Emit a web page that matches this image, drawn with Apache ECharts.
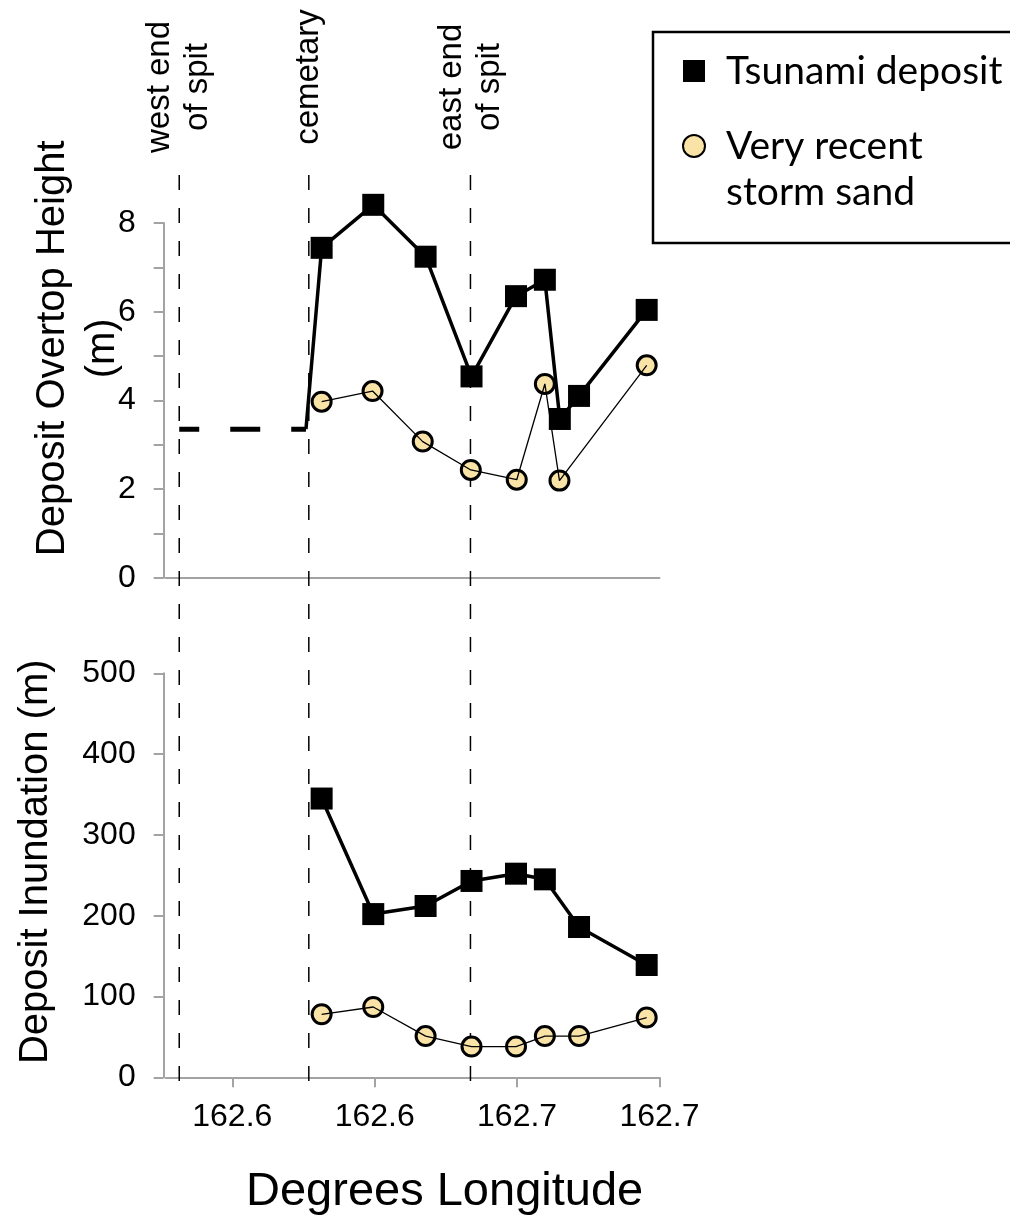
<!DOCTYPE html>
<html>
<head>
<meta charset="utf-8">
<script src="https://cdn.jsdelivr.net/npm/echarts@6/dist/echarts.min.js"></script>
<style>
html,body{margin:0;padding:0;background:#fff;}
#c{width:1010px;height:1218px;}
</style>
</head>
<body>
<div id="c"></div>
<script>
// ---------------- DATA ----------------
const xMin = 162.5613;
const xMax = 162.70;
const xTickValues = [162.58, 162.62, 162.66, 162.70];
const xTickLabels = ['162.6', '162.6', '162.7', '162.7'];

const landmarkLon = [162.5651, 162.6015, 162.6469];
const landmarkNames = ['west end\nof spit', 'cemetary', 'east end\nof spit'];

// Top panel: Deposit overtop height (m)
const westSpitLon = [162.5651, 162.6007];
const westSpitHeight = [3.35, 3.35];
const tsunamiHeightLon = [162.6051, 162.6196, 162.6343, 162.6472, 162.6597, 162.6678, 162.6720, 162.6774, 162.6964];
const tsunamiHeight = [7.44, 8.41, 7.24, 4.54, 6.35, 6.72, 3.58, 4.10, 6.04];
const stormHeightLon = [162.6051, 162.6194, 162.6335, 162.6470, 162.6599, 162.6678, 162.6719, 162.6964];
const stormHeight = [3.97, 4.21, 3.07, 2.43, 2.21, 4.37, 2.19, 4.79];

// Bottom panel: Deposit inundation (m)
const tsunamiInundLon = [162.6051, 162.6196, 162.6343, 162.6472, 162.6597, 162.6678, 162.6774, 162.6964];
const tsunamiInund = [345, 202, 212, 243, 252, 245, 186, 139];
const stormInundLon = [162.6051, 162.6196, 162.6343, 162.6472, 162.6597, 162.6678, 162.6774, 162.6964];
const stormInund = [78, 87, 51, 38, 38, 51, 51, 74];

const heightTicks = [0, 2, 4, 6, 8];

// ---------------- BUILD ----------------
const pairs = (xs, ys) => xs.map((x, i) => [x, ys[i]]);
const FONT = '"Liberation Sans", Arial, sans-serif';
const AXIS_GRAY = '#a3a3a3';
const SAND = '#FAE3A6';
const TSUNAMI = 'Tsunami deposit';
const STORM = 'Very recent\nstorm sand';

const chart = echarts.init(document.getElementById('c'), null, {renderer: 'canvas'});

const gridL = 165.7, gridR = 1010 - 659.5;
const grids = [
  {left: gridL, right: gridR, top: 223, bottom: 1218 - 577.7, outerBoundsMode: 'none', containLabel: false},
  {left: gridL, right: gridR, top: 673.3, bottom: 1218 - 1077.3, outerBoundsMode: 'none', containLabel: false},
  {left: gridL, right: gridR, top: 160, bottom: 1218 - 1081, outerBoundsMode: 'none', containLabel: false}
];

const axisLine = {show: true, lineStyle: {color: AXIS_GRAY, width: 2}};

const tsunamiTop = [[westSpitLon[1], westSpitHeight[1]]].concat(pairs(tsunamiHeightLon, tsunamiHeight));

const squareStyle = {color: '#000', opacity: 1};
const circleStyle = {color: SAND, borderColor: '#000', borderWidth: 3, opacity: 1};

const option = {
  animation: false,
  backgroundColor: '#fff',
  grid: grids,
  xAxis: [
    {gridIndex: 0, type: 'value', min: xMin, max: xMax, axisLine: axisLine,
     axisTick: {show: false}, axisLabel: {show: false}, splitLine: {show: false}},
    {gridIndex: 1, type: 'value', min: xMin, max: xMax, offset: 3.5, axisLine: axisLine,
     axisTick: {show: true, length: 10, lineStyle: {color: AXIS_GRAY, width: 2}, customValues: xTickValues},
     axisLabel: {show: true, customValues: xTickValues, fontFamily: FONT, fontSize: 32, color: '#000', margin: 20,
       formatter: function (v) {
         let best = 0;
         xTickValues.forEach((t, i) => { if (Math.abs(t - v) < Math.abs(xTickValues[best] - v)) best = i; });
         return xTickLabels[best];
       }},
     splitLine: {show: false},
     name: 'Degrees Longitude', nameLocation: 'middle', nameGap: 88, nameMoveOverlap: false,
     nameTextStyle: {fontFamily: FONT, fontSize: 47, color: '#000', padding: [0, 0, 0, 64]}},
    {gridIndex: 2, type: 'value', min: xMin, max: xMax, show: false}
  ],
  yAxis: [
    {gridIndex: 0, type: 'value', min: 0, max: 8, interval: 1, offset: 2, axisLine: axisLine,
     axisTick: {show: true, length: 10, lineStyle: {color: AXIS_GRAY, width: 2}},
     axisLabel: {fontFamily: FONT, fontSize: 32, color: '#000', margin: 28,
       formatter: v => heightTicks.indexOf(v) >= 0 ? String(v) : ''},
     splitLine: {show: false},
     name: 'Deposit Overtop Height\n(m)', nameLocation: 'middle', nameRotate: 90, nameGap: 36, nameMoveOverlap: false,
     nameTextStyle: {fontFamily: FONT, fontSize: 40, lineHeight: 50, color: '#000', padding: [0, 0, 0, 104]}},
    {gridIndex: 1, type: 'value', min: 0, max: 500, interval: 100, offset: 2, axisLine: axisLine,
     axisTick: {show: true, length: 10, lineStyle: {color: AXIS_GRAY, width: 2}},
     axisLabel: {fontFamily: FONT, fontSize: 32, color: '#000', margin: 28},
     splitLine: {show: false},
     name: 'Deposit Inundation (m)', nameLocation: 'middle', nameRotate: 90, nameGap: 108, nameMoveOverlap: false,
     nameTextStyle: {fontFamily: FONT, fontSize: 40, color: '#000', padding: [0, 0, 0, 27]}},
    {gridIndex: 2, type: 'value', min: 0, max: 1, show: false}
  ],
  legend: {
    orient: 'vertical', left: 653, top: 32,
    padding: [16, 60, 28, 29],
    itemGap: -17, itemWidth: 22, itemHeight: 22,
    borderColor: '#000', borderWidth: 2.5, backgroundColor: '#fff',
    selectedMode: false,
    textStyle: {fontFamily: 'Lato', fontSize: 39, lineHeight: 46, color: '#000', padding: [0, 0, 0, 16]},
    formatter: name => name === STORM ? '\n' + name : name,
    data: [
      {name: TSUNAMI, icon: 'rect'},
      {name: STORM, icon: 'circle'}
    ]
  },
  series: [
    // landmark vertical dashed lines
    ...landmarkLon.map((lon, i) => ({
      name: 'landmark' + i, type: 'line', xAxisIndex: 2, yAxisIndex: 2, silent: true, z: 1,
      symbol: 'none', data: [[lon, 0], [lon, 1]],
      lineStyle: {color: '#000', width: 1.5, type: [15, 18]}
    })),
    // top panel
    {name: 'west spit level', type: 'line', xAxisIndex: 0, yAxisIndex: 0, z: 3, symbol: 'none', clip: false,
     data: pairs(westSpitLon, westSpitHeight),
     lineStyle: {color: '#000', width: 5, type: [30, 31], dashOffset: 10}},
    {name: TSUNAMI, type: 'scatter', xAxisIndex: 0, yAxisIndex: 0, z: 2, clip: false,
     symbol: 'rect', symbolSize: 22, itemStyle: squareStyle,
     data: pairs(tsunamiHeightLon, tsunamiHeight)},
    {name: 'tsunami line top', type: 'line', xAxisIndex: 0, yAxisIndex: 0, z: 3, symbol: 'none', clip: false,
     data: tsunamiTop, lineStyle: {color: '#000', width: 3.5}},
    {name: STORM, type: 'scatter', xAxisIndex: 0, yAxisIndex: 0, z: 4, clip: false,
     symbol: 'circle', symbolSize: 19, itemStyle: circleStyle,
     data: pairs(stormHeightLon, stormHeight)},
    {name: 'storm line top', type: 'line', xAxisIndex: 0, yAxisIndex: 0, z: 5, symbol: 'none', clip: false,
     data: pairs(stormHeightLon, stormHeight), lineStyle: {color: '#000', width: 1.3}},
    // bottom panel
    {name: TSUNAMI, type: 'scatter', xAxisIndex: 1, yAxisIndex: 1, z: 2, clip: false,
     symbol: 'rect', symbolSize: 22, itemStyle: squareStyle,
     data: pairs(tsunamiInundLon, tsunamiInund)},
    {name: 'tsunami line bottom', type: 'line', xAxisIndex: 1, yAxisIndex: 1, z: 3, symbol: 'none', clip: false,
     data: pairs(tsunamiInundLon, tsunamiInund), lineStyle: {color: '#000', width: 3.5}},
    {name: STORM, type: 'scatter', xAxisIndex: 1, yAxisIndex: 1, z: 4, clip: false,
     symbol: 'circle', symbolSize: 19, itemStyle: circleStyle,
     data: pairs(stormInundLon, stormInund)},
    {name: 'storm line bottom', type: 'line', xAxisIndex: 1, yAxisIndex: 1, z: 5, symbol: 'none', clip: false,
     data: pairs(stormInundLon, stormInund), lineStyle: {color: '#000', width: 1.3}}
  ]
};

chart.setOption(option);

// landmark labels, anchored to the top of each landmark line
const labelCenterOffset = [73, 83, 73];
const graphics = landmarkLon.map((lon, i) => {
  const p = chart.convertToPixel({xAxisIndex: 2, yAxisIndex: 2}, [lon, 1]);
  return {
    type: 'text', x: p[0], y: p[1] - labelCenterOffset[i], rotation: Math.PI / 2, silent: true,
    style: {text: landmarkNames[i], font: '33px ' + FONT, fill: '#000',
            align: 'center', verticalAlign: 'middle', lineHeight: 38}
  };
});
chart.setOption({graphic: graphics});
</script>
</body>
</html>
